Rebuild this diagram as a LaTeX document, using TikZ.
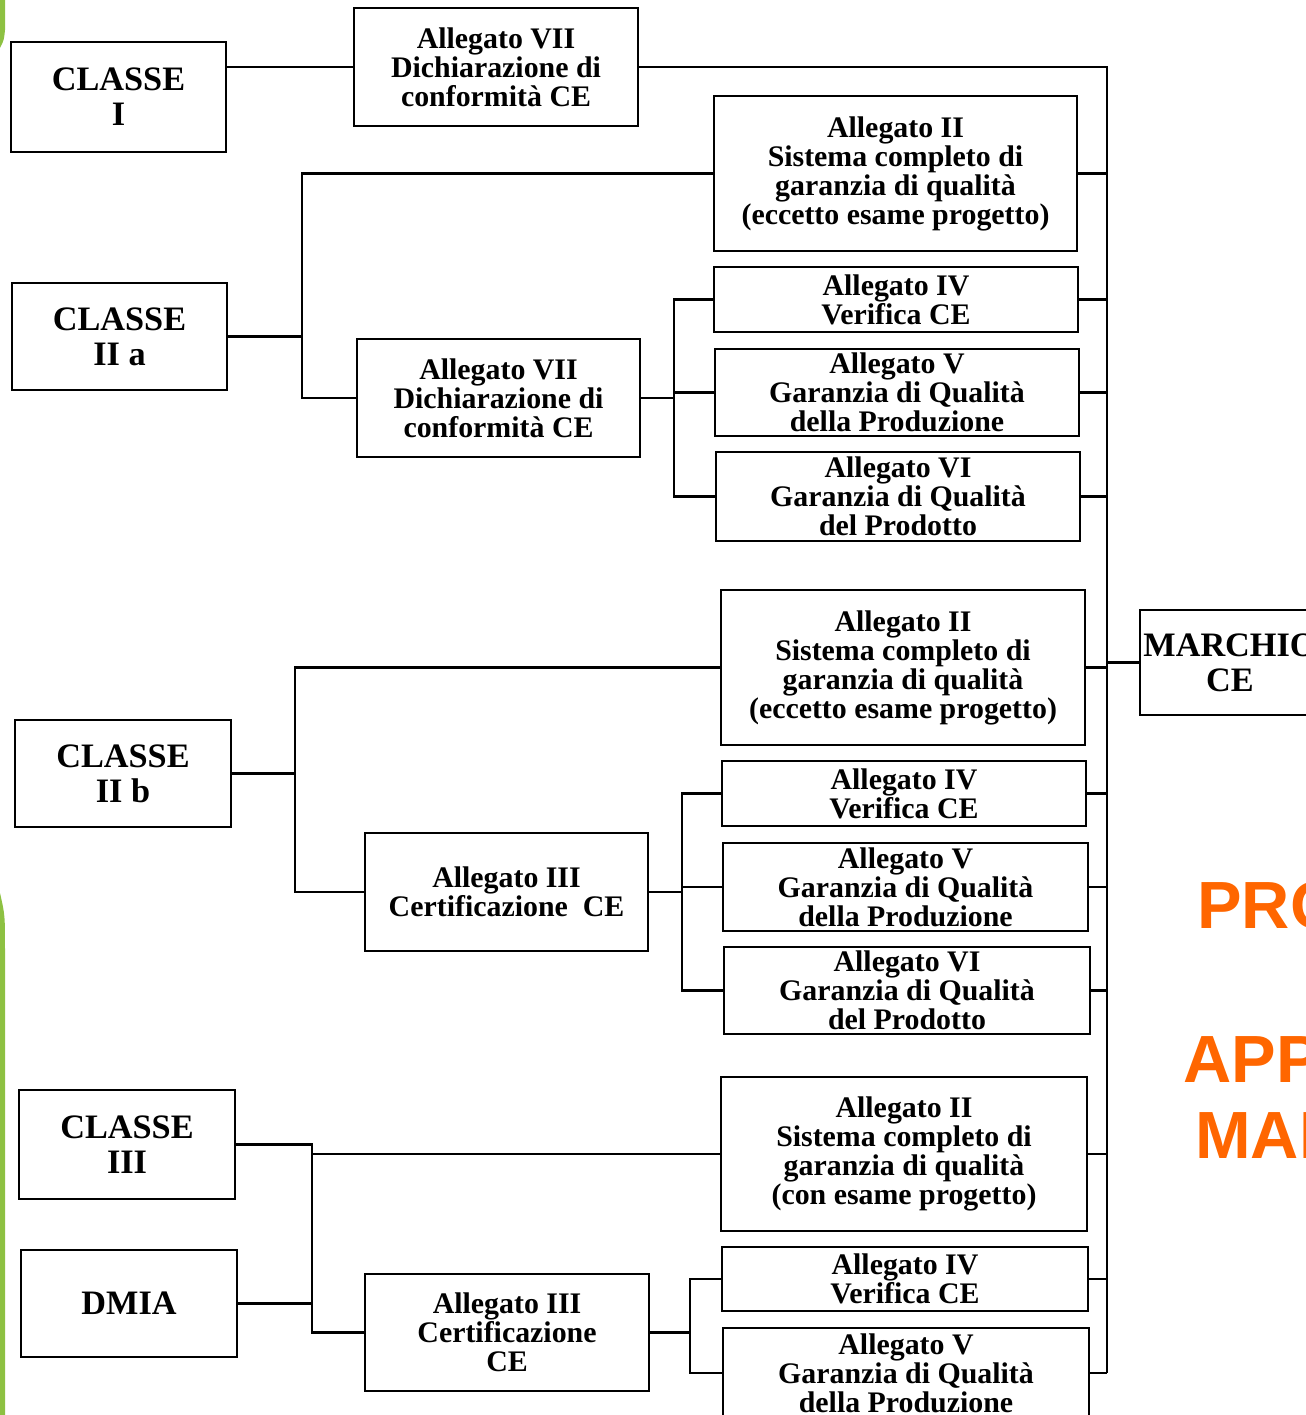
\documentclass[tikz,border=0pt]{standalone}
\usepackage{fontspec}
\setmainfont{Liberation Serif}
\newfontfamily\slidefont{Liberation Sans}
\usepackage{tikz}
\usetikzlibrary{positioning,calc}
\definecolor{slidegreen}{HTML}{8DC142}
\definecolor{slideorange}{HTML}{FF6600}

\begin{document}
\begin{tikzpicture}[x=0.02cm, y=-0.02cm,
    classbox/.style={draw, line width=1.4pt, inner sep=0pt, align=center, font=\fontsize{19.5}{20}\selectfont\bfseries},
    annexbox/.style={draw, line width=1.4pt, inner sep=0pt, align=center, font=\fontsize{17}{16.5}\selectfont\bfseries},
    link/.style={line width=1.2pt},
    slidetitle/.style={anchor=base west, inner sep=0pt, text=slideorange, font=\slidefont\fontsize{38}{38}\selectfont\bfseries}]
    \useasboundingbox (0,0) rectangle (1305,1415);
    % slide border on the left
    \fill[slidegreen] (0,0) -- (5,0) -- (5,30) .. controls (4,40) .. (0,48) -- cycle;
    \fill[slidegreen] (0,893) .. controls (5,915) .. (5,950) -- (5,1415) -- (0,1415) -- cycle;
    % classes
    \node[classbox, minimum width=4.30cm, minimum height=2.20cm] (c1) at (118.5,97) {CLASSE\\I};
    \node[classbox, minimum width=4.30cm, minimum height=2.14cm] (c2a) at (119.5,336.5) {CLASSE\\II a};
    \node[classbox, minimum width=4.32cm, minimum height=2.14cm] (c2b) at (123,773.5) {CLASSE\\II b};
    \node[classbox, minimum width=4.32cm, minimum height=2.18cm] (c3) at (127,1144.5) {CLASSE\\III};
    \node[classbox, minimum width=4.32cm, minimum height=2.14cm] (dmia) at (129,1303.5) {DMIA};
    % first level annexes
    \node[annexbox, minimum width=5.68cm, minimum height=2.36cm] (a7top) at (496,67) {Allegato VII\\Dichiarazione di\\conformità CE};
    \node[annexbox, minimum width=5.66cm, minimum height=2.36cm] (a7a) at (498.5,398) {Allegato VII\\Dichiarazione di\\conformità CE};
    \node[annexbox, minimum width=5.66cm, minimum height=2.36cm] (a3b) at (506.5,892) {Allegato III\\Certificazione\enspace CE};
    \node[annexbox, minimum width=5.68cm, minimum height=2.34cm] (a3c) at (507,1332.5) {Allegato III\\Certificazione\\CE};
    % class II a
    \node[annexbox, minimum width=7.26cm, minimum height=3.10cm] (a2a) at (895.5,173.5) {Allegato II\\Sistema completo di\\garanzia di qualità\\(eccetto esame progetto)};
    \node[annexbox, minimum width=7.28cm, minimum height=1.30cm] (a4a) at (896,299.5) {Allegato IV\\Verifica CE};
    \node[annexbox, minimum width=7.28cm, minimum height=1.74cm] (a5a) at (897,392.5) {Allegato V\\Garanzia di Qualità\\della Produzione};
    \node[annexbox, minimum width=7.28cm, minimum height=1.78cm] (a6a) at (898,496.5) {Allegato VI\\Garanzia di Qualità\\del Prodotto};
    % class II b
    \node[annexbox, minimum width=7.28cm, minimum height=3.10cm] (a2b) at (903,667.5) {Allegato II\\Sistema completo di\\garanzia di qualità\\(eccetto esame progetto)};
    \node[annexbox, minimum width=7.28cm, minimum height=1.30cm] (a4b) at (904,793.5) {Allegato IV\\Verifica CE};
    \node[annexbox, minimum width=7.30cm, minimum height=1.76cm] (a5b) at (905.5,887) {Allegato V\\Garanzia di Qualità\\della Produzione};
    \node[annexbox, minimum width=7.32cm, minimum height=1.74cm] (a6b) at (907,990.5) {Allegato VI\\Garanzia di Qualità\\del Prodotto};
    % class III and DMIA
    \node[annexbox, minimum width=7.32cm, minimum height=3.08cm] (a2c) at (904,1154) {Allegato II\\Sistema completo di\\garanzia di qualità\\(con esame progetto)};
    \node[annexbox, minimum width=7.32cm, minimum height=1.28cm] (a4c) at (905,1279) {Allegato IV\\Verifica CE};
    \node[annexbox, minimum width=7.32cm, minimum height=1.80cm] (a5c) at (906,1373) {Allegato V\\Garanzia di Qualità\\della Produzione};
    % CE mark
    \node[classbox, minimum width=3.60cm, minimum height=2.10cm] (marchio) at (1230,662.5) {MARCHIO\\CE};
    % joints
    \coordinate (busbot) at (1107,1373);
    \coordinate (s2a) at (302,398);
    \coordinate (t2a) at (674,450);
    \coordinate (s2b) at (295,892);
    \coordinate (t2b) at (682,940);
    \coordinate (s3) at (312,1332.5);
    \coordinate (t3) at (690,1332.5);
    % class I
    \draw[link] (a7top.west -| c1.east) -- (a7top.west);
    \draw[link] (a7top.east) -| (busbot);
    % class II a
    \draw[link] (a2a.west) -| (s2a) -- (a7a.west);
    \draw[link] (c2a.east) -- (c2a.east -| s2a);
    \draw[link] (a4a.west) -| (t2a) |- (a6a.west);
    \draw[link] (a7a.east) -- (a7a.east -| t2a);
    \draw[link] (a5a.west) -- (a5a.west -| t2a);
    % class II b
    \draw[link] (a2b.west) -| (s2b) -- (a3b.west);
    \draw[link] (c2b.east) -- (c2b.east -| s2b);
    \draw[link] (a4b.west) -| (t2b) |- (a6b.west);
    \draw[link] (a3b.east) -- (a3b.east -| t2b);
    \draw[link] (a5b.west) -- (a5b.west -| t2b);
    % class III and DMIA
    \draw[link] (c3.east) -| (s3) -- (a3c.west);
    \draw[link] (a2c.west) -- (a2c.west -| s3);
    \draw[link] (dmia.east) -- (dmia.east -| s3);
    \draw[link] (a4c.west) -| (t3) |- (a5c.west);
    \draw[link] (a3c.east) -- (t3);
    % into the bus
    \draw[link] (a2a.east) -- (a2a.east -| busbot);
    \draw[link] (a4a.east) -- (a4a.east -| busbot);
    \draw[link] (a5a.east) -- (a5a.east -| busbot);
    \draw[link] (a6a.east) -- (a6a.east -| busbot);
    \draw[link] (a2b.east) -- (a2b.east -| busbot);
    \draw[link] (marchio.west -| busbot) -- (marchio.west);
    \draw[link] (a4b.east) -- (a4b.east -| busbot);
    \draw[link] (a5b.east) -- (a5b.east -| busbot);
    \draw[link] (a6b.east) -- (a6b.east -| busbot);
    \draw[link] (a2c.east) -- (a2c.east -| busbot);
    \draw[link] (a4c.east) -- (a4c.east -| busbot);
    \draw[link] (a5c.east) -- (busbot);
    % slide title, cut by the page
    \node[slidetitle] (tpro) at (1197,928) {PRO};
    \node[slidetitle] (tapp) at (1183,1082) {APP};
    \node[slidetitle] (tmar) at (1195,1158) {MAR};
\end{tikzpicture}
\end{document}
